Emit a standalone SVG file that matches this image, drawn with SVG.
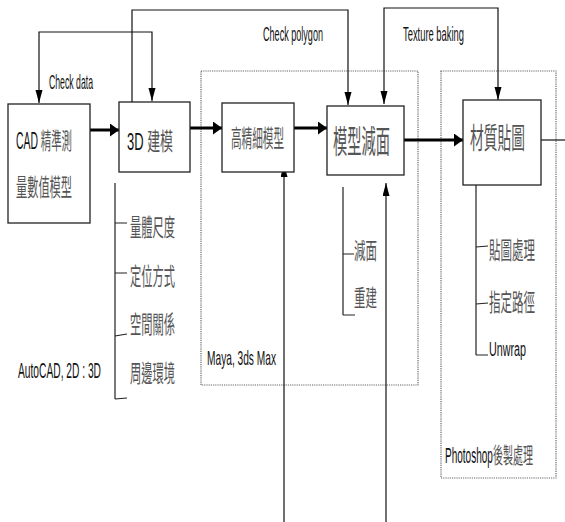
<svg xmlns="http://www.w3.org/2000/svg" width="565" height="522" viewBox="0 0 565 522">
<style>
text{font-family:"Liberation Sans","Noto Sans CJK TC",sans-serif;fill:#111}
.cj{fill:#555}
.box{fill:#fff;stroke:#222;stroke-width:1.3}
.grp{fill:none;stroke:#666;stroke-width:1.2;stroke-dasharray:1.2 1}
.thin{fill:none;stroke:#111;stroke-width:1.2}
.thick{fill:none;stroke:#000;stroke-width:3}
.brk{fill:none;stroke:#222;stroke-width:1.2}
</style>
<defs>
<marker id="ah" markerUnits="userSpaceOnUse" markerWidth="14" markerHeight="8" refX="13" refY="3.5" orient="auto"><path d="M0,0 L13,3.5 L0,7 z" fill="#000"/></marker>
<marker id="ahT" markerUnits="userSpaceOnUse" markerWidth="10" markerHeight="14" refX="9" refY="6.5" orient="auto"><path d="M0,0 L9,6.5 L0,13 z" fill="#000"/></marker>
</defs>
<rect width="565" height="522" fill="#fff"/>

<g id="group-maya">
<rect class="grp" x="201" y="71" width="217" height="314"/>
<text x="207" y="365" font-size="21" textLength="69" lengthAdjust="spacingAndGlyphs">Maya, 3ds Max</text>
</g>
<g id="group-photoshop">
<rect class="grp" x="441" y="71" width="115" height="407"/>
<text x="445" y="463" font-size="22" textLength="88" lengthAdjust="spacingAndGlyphs">Photoshop<tspan class="cj">後製處理</tspan></text>
</g>

<g id="connectors">
<path class="thin" d="M96,32 H39 V103" marker-end="url(#ah)"/>
<path class="thin" d="M96,32 H152 V101" marker-end="url(#ah)"/>
<path class="thin" d="M132,102 V10 H348 V105" marker-end="url(#ah)"/>
<path class="thin" d="M440,8 H384 V104" marker-end="url(#ah)"/>
<path class="thin" d="M440,8 H498 V100" marker-end="url(#ah)"/>
<path class="thick" d="M90,130 H119" marker-end="url(#ahT)"/>
<path class="thick" d="M190,128 H222" marker-end="url(#ahT)"/>
<path class="thick" d="M294,128 H327" marker-end="url(#ahT)"/>
<path class="thick" d="M404,140 H463" marker-end="url(#ahT)"/>
<path class="thin" d="M541,140 H565"/>
<path class="thin" stroke="#333" d="M284,522 V164" marker-end="url(#ah)"/>
<path class="thin" stroke="#333" d="M386,522 V183" marker-end="url(#ah)"/>
<path class="brk" d="M115,183 V399 M115,223 H127 M115,273 H127 M115,336 L127,334 M115,399 L127,398"/>
<path class="brk" d="M343,187 V315 M343,254 H354 M343,315 H355"/>
<path class="brk" d="M476,185 V355 M476,247 L488,246 M476,304 L488,303 M476,355 H488"/>
</g>

<g id="label-check-data"><text x="49" y="89" font-size="21" textLength="44" lengthAdjust="spacingAndGlyphs">Check data</text></g>
<g id="label-check-polygon"><text x="263" y="41" font-size="21" textLength="60" lengthAdjust="spacingAndGlyphs">Check polygon</text></g>
<g id="label-texture-baking"><text x="403" y="41" font-size="21" textLength="61" lengthAdjust="spacingAndGlyphs">Texture baking</text></g>

<g id="node-cad">
<rect class="box" x="8" y="104" width="82" height="119"/>
<text x="16" y="149" font-size="23" textLength="56" lengthAdjust="spacingAndGlyphs">CAD <tspan class="cj">精準測</tspan></text>
<text class="cj" x="16" y="196" font-size="24" textLength="56" lengthAdjust="spacingAndGlyphs">量數值模型</text>
</g>
<g id="node-3d">
<rect class="box" x="119" y="102" width="71" height="70"/>
<text x="127" y="150" font-size="24" textLength="46" lengthAdjust="spacingAndGlyphs">3D <tspan class="cj">建模</tspan></text>
</g>
<g id="node-high">
<rect class="box" x="222" y="103" width="72" height="69"/>
<text class="cj" x="231" y="147" font-size="24" textLength="53" lengthAdjust="spacingAndGlyphs">高精細模型</text>
</g>
<g id="node-reduce">
<rect class="box" x="327" y="106" width="77" height="69"/>
<text class="cj" x="333" y="153" font-size="32" textLength="57" lengthAdjust="spacingAndGlyphs">模型減面</text>
</g>
<g id="node-texture">
<rect class="box" x="463" y="100" width="78" height="85"/>
<text class="cj" x="470" y="149" font-size="29" textLength="55" lengthAdjust="spacingAndGlyphs">材質貼圖</text>
</g>

<g id="list-3d">
<text class="cj" x="130" y="236" font-size="24" textLength="45" lengthAdjust="spacingAndGlyphs">量體尺度</text>
<text class="cj" x="130" y="285" font-size="24" textLength="45" lengthAdjust="spacingAndGlyphs">定位方式</text>
<text class="cj" x="130" y="333" font-size="24" textLength="45" lengthAdjust="spacingAndGlyphs">空間關係</text>
<text class="cj" x="130" y="382" font-size="24" textLength="45" lengthAdjust="spacingAndGlyphs">周邊環境</text>
<text x="18" y="378" font-size="22" textLength="83" lengthAdjust="spacingAndGlyphs">AutoCAD, 2D : 3D</text>
</g>
<g id="list-reduce">
<text class="cj" x="354" y="259" font-size="23" textLength="23" lengthAdjust="spacingAndGlyphs">減面</text>
<text class="cj" x="354" y="306" font-size="23" textLength="23" lengthAdjust="spacingAndGlyphs">重建</text>
</g>
<g id="list-texture">
<text class="cj" x="489" y="259" font-size="24" textLength="46" lengthAdjust="spacingAndGlyphs">貼圖處理</text>
<text class="cj" x="489" y="311" font-size="24" textLength="46" lengthAdjust="spacingAndGlyphs">指定路徑</text>
<text x="489" y="356" font-size="20" textLength="37" lengthAdjust="spacingAndGlyphs">Unwrap</text>
</g>
</svg>
